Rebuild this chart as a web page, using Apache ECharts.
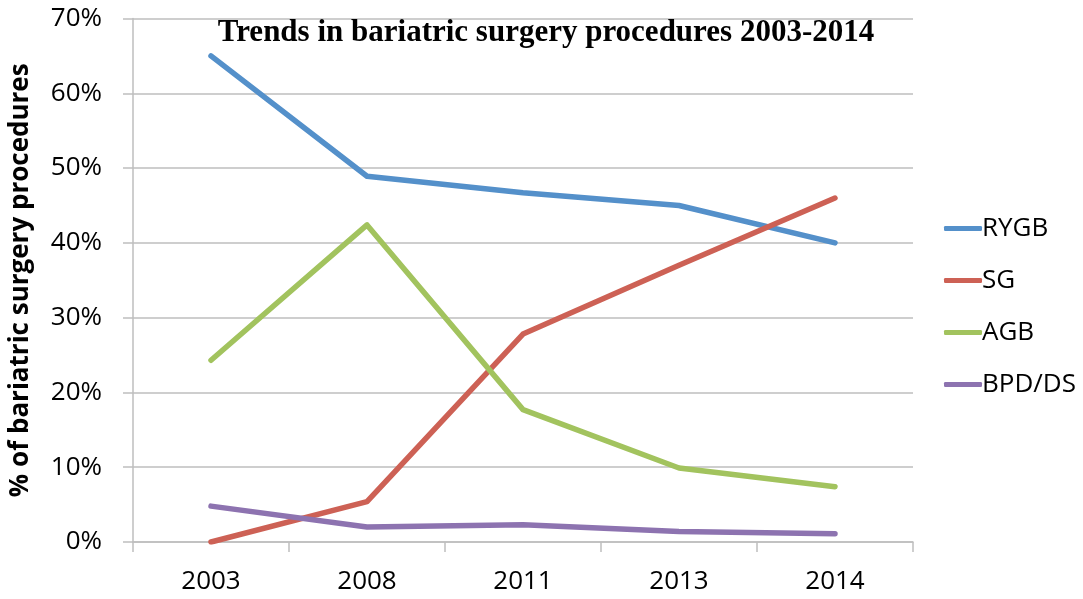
<!DOCTYPE html>
<html>
<head>
<meta charset="utf-8">
<script src="https://cdn.jsdelivr.net/npm/echarts@6/dist/echarts.min.js"></script>
<style>
  html, body { margin: 0; padding: 0; background: #ffffff; }
  #chart { width: 1083px; height: 599px; }
</style>
</head>
<body>
<div id="chart"></div>
<script>
// Share of bariatric procedures by type (percent of all procedures)
const years = ['2003', '2008', '2011', '2013', '2014'];
const rygb = [65.0, 48.9, 46.7, 45.0, 40.0];
const sg = [0.0, 5.4, 27.8, 37.0, 46.0];
const agb = [24.3, 42.4, 17.7, 9.9, 7.4];
const bpdds = [4.8, 2.0, 2.3, 1.4, 1.1];

const seriesNames = ['RYGB', 'SG', 'AGB', 'BPD/DS'];
const seriesData = [rygb, sg, agb, bpdds];
const seriesColors = ['#5490CA', '#CD6155', '#A2C35E', '#8D73B0'];

const labelFont = '"Open Sans", "Noto Sans", sans-serif';
const gridColor = '#BEBEBE';

const chart = echarts.init(document.getElementById('chart'), null, { renderer: 'canvas' });

chart.setOption({
  animation: false,
  backgroundColor: '#ffffff',
  title: {
    text: 'Trends in bariatric surgery procedures 2003-2014',
    left: 541,
    textAlign: 'center',
    top: 12,
    textStyle: {
      fontFamily: '"Liberation Serif", "Times New Roman", serif',
      fontWeight: 'bold',
      fontSize: 31,
      color: '#000000'
    }
  },
  legend: {
    orient: 'vertical',
    left: 939,
    top: 208,
    itemWidth: 38,
    itemHeight: 5,
    itemGap: 21,
    icon: 'roundRect',
    data: seriesNames,
    textStyle: {
      fontFamily: labelFont,
      fontSize: 26,
      lineHeight: 31,
      color: '#000000',
      padding: [0, 0, 0, -5]
    }
  },
  grid: {
    left: 129,
    right: 170,
    top: 18.5,
    bottom: 57,
    containLabel: false
  },
  xAxis: {
    type: 'category',
    data: years,
    boundaryGap: true,
    axisLine: { show: true, lineStyle: { color: gridColor, width: 1.5 } },
    axisTick: { show: true, length: 10, alignWithLabel: false, lineStyle: { color: gridColor, width: 1.5 } },
    axisLabel: {
      margin: 27,
      fontFamily: labelFont,
      fontSize: 26,
      color: '#000000'
    },
    splitLine: { show: false }
  },
  yAxis: {
    type: 'value',
    min: 0,
    max: 70,
    interval: 10,
    name: '% of bariatric surgery procedures',
    nameLocation: 'middle',
    nameGap: 99,
    nameRotate: 90,
    nameTextStyle: {
      fontFamily: labelFont,
      fontWeight: 'bold',
      fontSize: 26,
      color: '#000000'
    },
    axisLine: { show: true, lineStyle: { color: gridColor, width: 1.5 } },
    axisTick: { show: true, length: 10, inside: false, lineStyle: { color: gridColor, width: 1.5 } },
    axisLabel: {
      margin: 31,
      fontFamily: labelFont,
      fontSize: 26,
      color: '#000000',
      formatter: '{value}%'
    },
    splitLine: { show: true, lineStyle: { color: gridColor, width: 1.5 } }
  },
  series: seriesNames.map((name, i) => ({
    name: name,
    type: 'line',
    data: seriesData[i],
    symbol: 'none',
    color: seriesColors[i],
    lineStyle: { width: 5.5, color: seriesColors[i], cap: 'round', join: 'round' }
  }))
});
</script>
</body>
</html>
